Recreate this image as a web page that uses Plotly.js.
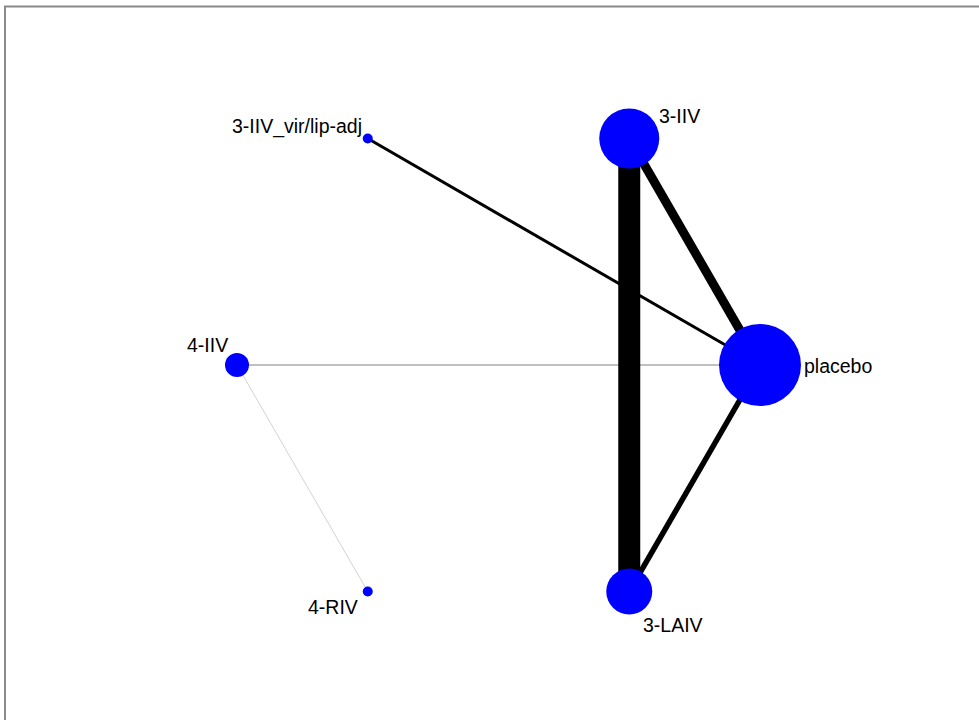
<!DOCTYPE html>
<html>
<head>
<meta charset="utf-8">
<script src="https://cdn.plot.ly/plotly-3.0.1.min.js"></script>
<style>
  html, body { margin: 0; padding: 0; background: #ffffff; }
  #net { width: 979px; height: 720px; }
</style>
</head>
<body>
<div id="net"></div>
<script>
// Treatments of the network, in circular-layout order (counter-clockwise from the right)
const treatments = ['placebo', '3-IIV', '3-IIV_vir/lip-adj', '4-IIV', '4-RIV', '3-LAIV'];
// Relative node weight (drives marker size)
const nodeWeight = [41, 30, 5, 12, 5, 23];

// Direct comparisons and their weight (drives line width)
const edgeFrom   = ['4-IIV', '4-IIV', '3-IIV_vir/lip-adj', '3-LAIV', '3-IIV', '3-IIV'];
const edgeTo     = ['4-RIV', 'placebo', 'placebo', 'placebo', 'placebo', '3-LAIV'];
const edgeWeight = [1, 1.5, 3, 5.5, 9, 22];

// ---- styling ----
const edgeColor = {
  '4-IIV|4-RIV': '#d2d2d2',
  '4-IIV|placebo': '#ababab'
};
const labelStyle = {
  'placebo':           {dx: 42,   dy: 1,   xanchor: 'left'},
  '3-IIV':             {dx: 28,   dy: -23, xanchor: 'left'},
  '3-IIV_vir/lip-adj': {dx: -4,   dy: -12, xanchor: 'right'},
  '4-IIV':             {dx: -7,   dy: -20, xanchor: 'right'},
  '4-RIV':             {dx: -8,   dy: 16,  xanchor: 'right'},
  '3-LAIV':            {dx: 12,   dy: 34,  xanchor: 'left'}
};

// Circular layout in pixel space
const W = 979, H = 720;
const cx = 498.5, cy = 365, rx = 261.5;
const pos = {};
treatments.forEach((t, i) => {
  const a = i * Math.PI / 3;
  pos[t] = {x: cx + rx * Math.cos(a), y: cy - rx * Math.sin(a)};
});

const traces = [];
edgeFrom.forEach((f, i) => {
  const t = edgeTo[i];
  traces.push({
    type: 'scatter', mode: 'lines', hoverinfo: 'skip', showlegend: false,
    x: [pos[f].x, pos[t].x], y: [pos[f].y, pos[t].y],
    line: {color: edgeColor[f + '|' + t] || '#000000', width: edgeWeight[i]}
  });
});

traces.push({
  type: 'scatter', mode: 'markers', showlegend: false,
  x: treatments.map(t => pos[t].x),
  y: treatments.map(t => pos[t].y),
  text: treatments, hoverinfo: 'text',
  marker: {color: '#0000ff', opacity: 1, size: nodeWeight.map(w => 2 * w), line: {width: 0}}
});

const annotations = treatments.map(t => ({
  x: pos[t].x + labelStyle[t].dx,
  y: pos[t].y + labelStyle[t].dy,
  xref: 'x', yref: 'y',
  text: t, showarrow: false,
  xanchor: labelStyle[t].xanchor, yanchor: 'middle',
  font: {family: 'Liberation Sans, Arial, sans-serif', size: 19.5, color: '#000000'}
}));

const layout = {
  width: W, height: H,
  margin: {l: 0, r: 0, t: 0, b: 0},
  paper_bgcolor: '#ffffff', plot_bgcolor: '#ffffff',
  xaxis: {range: [0, W], visible: false, fixedrange: true},
  yaxis: {range: [H, 0], visible: false, fixedrange: true},
  shapes: [{
    type: 'rect', xref: 'x', yref: 'y', layer: 'below',
    x0: 5, y0: 6.5, x1: W + 40, y1: H + 40,
    line: {color: '#8a8a8a', width: 2}
  }],
  annotations: annotations
};

Plotly.newPlot('net', traces, layout, {staticPlot: true, displayModeBar: false});
</script>
</body>
</html>
